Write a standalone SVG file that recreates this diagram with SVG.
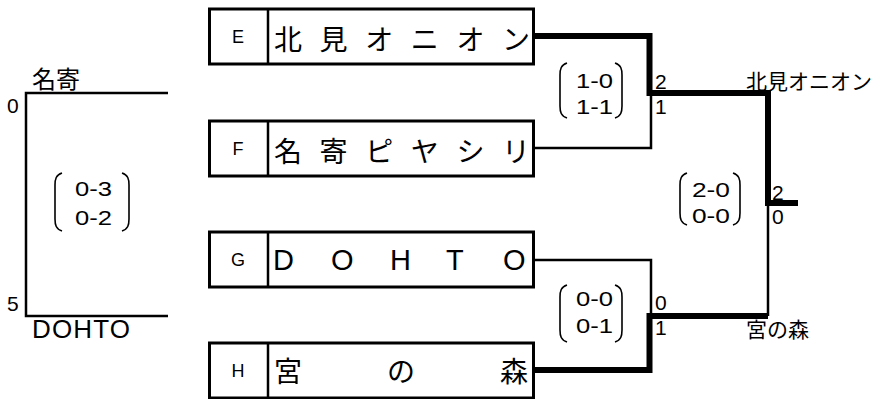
<svg xmlns="http://www.w3.org/2000/svg" width="895" height="399" viewBox="0 0 895 399">
<style>
.box{fill:#fff;stroke:#000;stroke-width:3}
.div{stroke:#000;stroke-width:2.5}
.lt{font-family:"Liberation Sans",Arial,sans-serif;font-size:18px;fill:#000;text-anchor:middle}
.jp{font-family:"Noto Sans CJK JP","Noto Sans CJK SC",sans-serif;fill:#000}
.bt{font-size:28px}
.en{font-family:"Liberation Sans",Arial,sans-serif;fill:#000}
.sc{font-family:"Liberation Sans",Arial,sans-serif;font-size:21px;fill:#000}
.thin{fill:none;stroke:#000;stroke-width:2.5}
.thick{fill:none;stroke:#000;stroke-width:6}
.par{fill:none;stroke:#000;stroke-width:1.6}
</style>
<rect width="895" height="399" fill="#fff"/>
<g id="connectors">
<path class="thin" d="M168 93 H26 V316 H168"/>
<path class="thin" d="M534 148 H651 V93"/>
<path class="thin" d="M534 260 H651 V316"/>
<path class="thin" d="M768 203 V316"/>
<path class="thick" d="M534 36 H649.5 V93 H768 V203 H798"/>
<path class="thick" d="M534 370 H649.5 V316 H768"/>
</g>
<g id="nodeE">
<rect class="box" x="209.5" y="9" width="324" height="55"/>
<line class="div" x1="268" y1="9" x2="268" y2="64"/>
<text class="lt" x="238" y="43">E</text>
<text class="jp bt" x="274 319.6 365.2 410.8 456.4 502" y="50">北見オニオン</text>
</g>
<g id="nodeF">
<rect class="box" x="209.5" y="121" width="324" height="55"/>
<line class="div" x1="268" y1="121" x2="268" y2="176"/>
<text class="lt" x="238" y="155">F</text>
<text class="jp bt" x="274 319.6 365.2 410.8 456.4 502" y="162">名寄ピヤシリ</text>
</g>
<g id="nodeG">
<rect class="box" x="209.5" y="232" width="324" height="55"/>
<line class="div" x1="268" y1="232" x2="268" y2="287"/>
<text class="lt" x="238" y="266">G</text>
<text class="en" font-size="29" x="273 331 390 446 503" y="270">DOHTO</text>
</g>
<g id="nodeH">
<rect class="box" x="209.5" y="343" width="324" height="55"/>
<line class="div" x1="268" y1="343" x2="268" y2="398"/>
<text class="lt" x="238" y="377">H</text>
<text class="jp bt" x="274 387 500" y="382">宮の森</text>
</g>
<g id="left-match">
<text class="jp" font-size="24" x="32" y="88">名寄</text>
<text class="sc" x="7" y="113">0</text>
<text class="sc" x="7" y="311">5</text>
<text class="en" font-size="26" x="32" y="338" textLength="98" lengthAdjust="spacing">DOHTO</text>
<path class="par" d="M62 173 C56 175 55 179 55 185 V219 C55 225 56 229 62 231"/>
<path class="par" d="M122 173 C128 175 129 179 129 185 V219 C129 225 128 229 122 231"/>
<text class="sc" x="75" y="196" textLength="37" lengthAdjust="spacingAndGlyphs">0-3</text>
<text class="sc" x="75" y="225" textLength="37" lengthAdjust="spacingAndGlyphs">0-2</text>
</g>
<g id="semi1">
<path class="par" d="M567 63 C561 65 560 69 560 75 V106 C560 112 561 116 567 118"/>
<path class="par" d="M615 63 C621 65 622 69 622 75 V106 C622 112 621 116 615 118"/>
<text class="sc" x="576" y="88" textLength="37" lengthAdjust="spacingAndGlyphs">1-0</text>
<text class="sc" x="576" y="114" textLength="37" lengthAdjust="spacingAndGlyphs">1-1</text>
<text class="sc" x="655" y="89">2</text>
<text class="sc" x="655" y="114">1</text>
</g>
<g id="semi2">
<path class="par" d="M567 285 C561 287 560 291 560 297 V330 C560 336 561 340 567 342"/>
<path class="par" d="M615 285 C621 287 622 291 622 297 V330 C622 336 621 340 615 342"/>
<text class="sc" x="576" y="306" textLength="37" lengthAdjust="spacingAndGlyphs">0-0</text>
<text class="sc" x="576" y="333" textLength="37" lengthAdjust="spacingAndGlyphs">0-1</text>
<text class="sc" x="655" y="310">0</text>
<text class="sc" x="655" y="335">1</text>
</g>
<g id="final">
<path class="par" d="M687 173 C681 175 680 179 680 185 V213 C680 219 681 223 687 225"/>
<path class="par" d="M733 173 C739 175 740 179 740 185 V213 C740 219 739 223 733 225"/>
<text class="sc" x="692" y="197" textLength="38" lengthAdjust="spacingAndGlyphs">2-0</text>
<text class="sc" x="692" y="223" textLength="38" lengthAdjust="spacingAndGlyphs">0-0</text>
<text class="sc" x="772" y="200">2</text>
<text class="sc" x="772" y="224">0</text>
<text class="jp" font-size="21" x="746" y="89">北見オニオン</text>
<text class="jp" font-size="21" x="746" y="337">宮の森</text>
</g>
</svg>
